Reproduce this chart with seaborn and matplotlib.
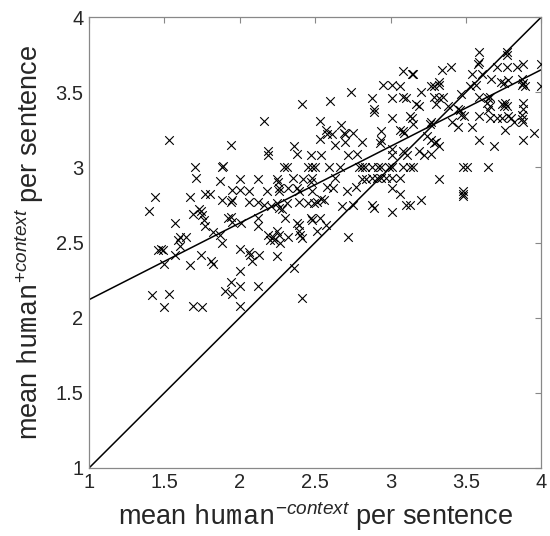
import matplotlib
matplotlib.use("Agg")
import matplotlib.pyplot as plt
from matplotlib.ticker import FuncFormatter
import seaborn as sns
import pandas as pd

# mean rating per sentence
human_minus = [
    1.53, 1.94, 1.70, 1.88, 1.89,
    1.71, 1.87, 2.00, 1.44, 1.67, 1.77, 1.80, 1.88, 1.94, 1.95, 2.00, 1.95,
    1.40, 1.69, 1.73, 1.75, 1.74, 1.57, 1.76, 1.77, 1.92, 1.94, 1.95, 2.01,
    1.82, 1.60, 1.64, 1.59, 1.60, 1.87, 1.88, 1.46, 1.48, 1.49, 1.57, 1.50,
    1.67, 1.74, 1.81, 1.82, 2.00, 2.06, 2.00, 1.94, 1.90, 1.95, 2.00,
    1.42, 1.53, 1.50, 1.69, 1.75, 2.00,
    2.95, 3.01, 2.74, 2.88, 3.01, 2.89, 2.89, 2.41, 2.60, 3.01, 2.16, 2.53,
    2.67, 2.57, 2.58, 2.53, 2.61, 2.69, 2.70, 2.75, 2.63, 2.70, 2.81, 2.94,
    2.94, 2.93, 2.36, 2.38, 2.19, 2.19, 2.47, 2.54, 2.72, 2.78, 3.01,
    2.29, 2.31, 2.455, 2.48, 2.50, 2.59, 2.665, 2.79, 2.81, 2.83, 2.88, 2.92,
    2.94, 2.99, 3.01,
    2.12, 2.245, 2.256, 2.356, 2.42, 2.47, 2.48, 2.63, 2.81, 2.84, 2.88, 2.91,
    2.94, 2.97, 3.01,
    2.06, 2.18, 2.26, 2.26, 2.32, 2.38, 2.39, 2.48, 2.58, 2.62, 2.71, 2.77, 3.01,
    2.06, 2.12, 2.16, 2.25, 2.26, 2.21, 2.31, 2.39, 2.45, 2.49, 2.51, 2.54, 2.56,
    2.68, 2.75, 2.88, 2.89, 3.01,
    2.12, 2.12, 2.28, 2.30, 2.38, 2.39, 2.47, 2.48, 2.53, 2.57,
    2.19, 2.22, 2.25, 2.26, 2.23, 2.27, 2.20, 2.39, 2.40, 2.41, 2.51, 2.32,
    2.72, 2.07, 2.08, 2.13, 2.25, 2.36, 2.12, 2.41,
    3.59, 3.77, 3.77, 3.58, 3.59, 3.71, 3.77, 3.84, 3.88, 4.00,
    3.08, 3.14, 3.15, 3.34, 3.40, 3.54, 3.61,
    3.67, 3.73, 3.75, 3.78, 3.87, 3.88, 3.87, 3.89, 4.00,
    3.32, 3.32, 3.29, 3.27, 3.06, 3.47, 3.53, 3.57, 3.20,
    3.08, 3.10, 3.29, 3.32, 3.35, 3.30, 3.59, 3.65, 3.66, 3.64, 3.66, 3.65,
    3.74, 3.76, 3.75, 3.77, 3.88, 3.88, 3.87, 3.17, 3.19, 3.38, 3.45, 3.46,
    3.13, 3.14, 3.47, 3.49, 3.54, 3.41, 3.45,
    3.59, 3.66, 3.71, 3.74, 3.78, 3.80, 3.82, 3.88, 3.87,
    3.27, 3.26, 3.15, 3.06, 3.08, 3.09, 3.76, 3.95,
    3.24, 3.27, 3.29, 3.32, 3.30, 3.59, 3.69, 3.88,
    3.01, 3.08, 3.11, 3.19, 3.22, 3.27,
    3.08, 3.13, 3.15, 3.48, 3.51, 3.65, 3.32,
    3.06, 3.06, 3.10, 3.13, 3.20, 3.48, 3.48, 3.48,
]
human_plus = [
    3.18, 3.15, 3.00, 3.00, 3.01,
    2.93, 2.91, 2.92, 2.80, 2.80, 2.82, 2.82, 2.78, 2.77, 2.78, 2.85, 2.85,
    2.71, 2.69, 2.72, 2.68, 2.71, 2.63, 2.65, 2.61, 2.66, 2.67, 2.64, 2.63,
    2.57, 2.54, 2.54, 2.52, 2.48, 2.55, 2.50, 2.45, 2.46, 2.45, 2.42, 2.36,
    2.35, 2.42, 2.38, 2.36, 2.46, 2.44, 2.31, 2.24, 2.18, 2.16, 2.21,
    2.15, 2.16, 2.07, 2.08, 2.07, 2.08,
    3.55, 3.55, 3.50, 3.46, 3.46, 3.39, 3.37, 3.42, 3.44, 3.33, 3.31, 3.31,
    3.28, 3.25, 3.22, 3.19, 3.22, 3.23, 3.22, 3.23, 3.15, 3.17, 3.17, 3.24,
    3.18, 3.16, 3.14, 3.09, 3.11, 3.08, 3.08, 3.08, 3.08, 3.09, 3.08,
    3.00, 3.00, 3.00, 3.00, 3.00, 3.00, 3.00, 3.00, 3.00, 3.00, 3.00, 3.00,
    3.00, 3.00, 3.00,
    2.92, 2.92, 2.90, 2.93, 2.92, 2.90, 2.93, 2.93, 2.92, 2.92, 2.93, 2.93,
    2.93, 2.93, 2.93,
    2.84, 2.84, 2.86, 2.84, 2.86, 2.86, 2.84, 2.84, 2.87, 2.86, 2.84, 2.87, 2.86,
    2.77, 2.77, 2.75, 2.76, 2.73, 2.74, 2.76, 2.77, 2.76, 2.76, 2.77, 2.79, 2.78,
    2.74, 2.75, 2.75, 2.73, 2.70,
    2.66, 2.61, 2.72, 2.66, 2.63, 2.62, 2.66, 2.65, 2.66, 2.62,
    2.55, 2.54, 2.58, 2.55, 2.52, 2.50, 2.52, 2.58, 2.55, 2.53, 2.58, 2.54,
    2.54, 2.42, 2.38, 2.42, 2.41, 2.33, 2.21, 2.13,
    3.77, 3.77, 3.75, 3.69, 3.70, 3.67, 3.67, 3.67, 3.69, 3.69,
    3.64, 3.62, 3.62, 3.65, 3.67, 3.62, 3.62,
    3.59, 3.57, 3.56, 3.58, 3.59, 3.56, 3.55, 3.54, 3.54,
    3.57, 3.55, 3.54, 3.54, 3.54, 3.49, 3.54, 3.55, 3.50,
    3.47, 3.46, 3.47, 3.46, 3.47, 3.42, 3.47, 3.46, 3.47, 3.43, 3.41, 3.38,
    3.42, 3.43, 3.41, 3.41, 3.43, 3.39, 3.35, 3.42, 3.41, 3.41, 3.39, 3.38,
    3.34, 3.33, 3.35, 3.34, 3.27, 3.30, 3.27,
    3.34, 3.33, 3.33, 3.33, 3.34, 3.33, 3.30, 3.30, 3.32,
    3.30, 3.29, 3.29, 3.25, 3.24, 3.23, 3.25, 3.23,
    3.21, 3.18, 3.16, 3.14, 3.17, 3.18, 3.14, 3.18,
    3.12, 3.11, 3.08, 3.11, 3.08, 3.09,
    3.00, 3.00, 3.00, 3.00, 3.00, 3.00, 2.92,
    2.93, 2.82, 2.75, 2.75, 2.78, 2.84, 2.81, 2.82,
]

# lines drawn in the reference: identity and the fitted line
diag_x = [1, 4]
diag_y = [1, 4]
fit_x = [1, 4]
fit_y = [2.12, 3.65]

df = pd.DataFrame({"minus": human_minus, "plus": human_plus})

sns.set_style("white")
plt.rcParams["font.family"] = ["Liberation Sans", "DejaVu Sans"]
plt.rcParams["mathtext.fontset"] = "custom"
plt.rcParams["mathtext.rm"] = "Liberation Sans"
plt.rcParams["mathtext.it"] = "Liberation Sans:italic"
plt.rcParams["mathtext.tt"] = "Liberation Mono"

fig = plt.figure(figsize=(5.5, 5.36), dpi=100)
ax = fig.add_axes([0.162, 0.127, 0.822, 0.841])

sns.scatterplot(data=df, x="minus", y="plus", marker="x", color="black",
                s=38, linewidth=0.8, ax=ax, zorder=3)
sns.lineplot(x=diag_x, y=diag_y, color="black", linewidth=1.1, ax=ax)
sns.lineplot(x=fit_x, y=fit_y, color="black", linewidth=1.1, ax=ax)

ax.set_xlim(1, 4)
ax.set_ylim(1, 4)
ticks = [1, 1.5, 2, 2.5, 3, 3.5, 4]
ax.set_xticks(ticks)
ax.set_yticks(ticks)
fmt = FuncFormatter(lambda v, p: "%g" % v)
ax.xaxis.set_major_formatter(fmt)
ax.yaxis.set_major_formatter(fmt)
ax.tick_params(direction="in", length=4, width=0.8, color="#888888",
               labelsize=14.5, top=True, right=True, pad=4)

for s in ax.spines.values():
    s.set_color("#888888")
    s.set_linewidth(0.9)

ax.set_xlabel(r"mean $\mathtt{human}^{-\mathit{context}}$ per sentence",
              fontsize=19.5, labelpad=5)
ax.set_ylabel(r"mean $\mathtt{human}^{+\mathit{context}}$ per sentence",
              fontsize=19.5, labelpad=7)

fig.savefig("out.png", dpi=100)
